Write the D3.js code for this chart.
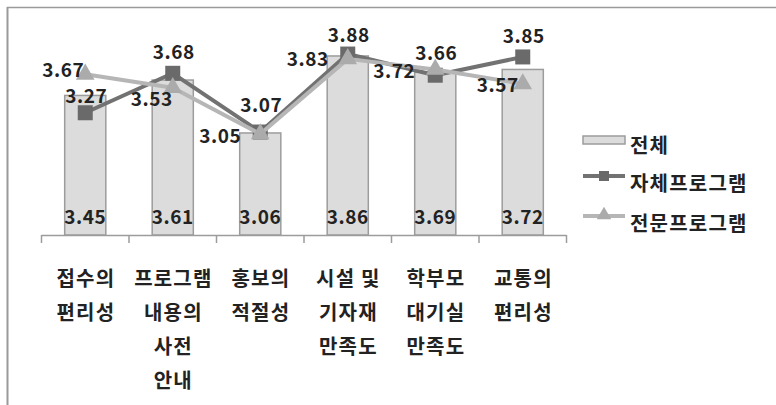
<!DOCTYPE html>
<html>
<head>
<meta charset="utf-8">
<script src="https://cdn.jsdelivr.net/npm/d3@7"></script>
<style>
  html, body { margin: 0; padding: 0; background: #fff; }
  svg { display: block; }
  text { font-family: "Noto Sans CJK KR", "Noto Sans", sans-serif; fill: #222; }
</style>
</head>
<body>
<svg id="chart" width="776" height="405"></svg>
<script>
// Categories (multi-line axis labels)
const categories = [
  ["접수의", "편리성"],
  ["프로그램", "내용의", "사전", "안내"],
  ["홍보의", "적절성"],
  ["시설 및", "기자재", "만족도"],
  ["학부모", "대기실", "만족도"],
  ["교통의", "편리성"]
];
const seriesNames = ["전체", "자체프로그램", "전문프로그램"];
const totalValues = [3.45, 3.61, 3.06, 3.86, 3.69, 3.72];
const ownValues = [3.27, 3.68, 3.07, 3.88, 3.66, 3.85];
const expertValues = [3.67, 3.53, 3.05, 3.83, 3.72, 3.57];

// label nudges for the line series (px)
const ownLabelDy = [-18, -23, -29, -21, -24, -22];
const expertLabelDx = [-22, -21, -40, -40, -41, -25];
const expertLabelDy = [-6, 10, 1, -1, 0, 0];

const svg = d3.select("#chart");
const W = 776, H = 405;
const numSize = 19, numSpacing = 0.6;
const korSize = 20, korSpacing = 1.2;

// frame (top and left edges)
svg.append("line").attr("x1", 7).attr("x2", W).attr("y1", 7.5).attr("y2", 7.5)
  .attr("stroke", "#9a9a9a").attr("stroke-width", 1.5);
svg.append("line").attr("x1", 7.5).attr("x2", 7.5).attr("y1", 7).attr("y2", H)
  .attr("stroke", "#9a9a9a").attr("stroke-width", 2);

const idx = d3.range(categories.length);
const x = d3.scaleBand().domain(idx).range([41.5, 566.5]).padding(0);
const y = d3.scaleLinear().domain([2, 4.2]).range([235, 235 - 2.2 * 96.25]);
const bw = x.bandwidth() * 0.47;
const cx = i => x(i) + x.bandwidth() / 2;

// bars
svg.append("g").selectAll("rect").data(totalValues).join("rect")
  .attr("x", (d, i) => cx(i) - bw / 2)
  .attr("y", d => y(d))
  .attr("width", bw)
  .attr("height", d => y(2) - y(d))
  .attr("fill", "#dcdcdc")
  .attr("stroke", "#9c9c9c")
  .attr("stroke-width", 1.5);

// x axis with boundary ticks
const axisG = svg.append("g");
axisG.append("line").attr("x1", x.range()[0]).attr("x2", x.range()[1])
  .attr("y1", 235.5).attr("y2", 235.5).attr("stroke", "#9c9c9c").attr("stroke-width", 1.5);
axisG.selectAll("line.tick").data(d3.range(categories.length + 1)).join("line")
  .attr("class", "tick")
  .attr("x1", i => x.range()[0] + i * x.step()).attr("x2", i => x.range()[0] + i * x.step())
  .attr("y1", 235).attr("y2", 243)
  .attr("stroke", "#9c9c9c").attr("stroke-width", 1.5);

// category labels
const catG = svg.append("g").selectAll("text").data(categories).join("text")
  .attr("text-anchor", "middle")
  .attr("font-size", korSize)
  .attr("letter-spacing", korSpacing)
  .attr("font-weight", "bold");
catG.each(function (lines, i) {
  d3.select(this).selectAll("tspan").data(lines).join("tspan")
    .attr("x", cx(i) + korSpacing / 2)
    .attr("y", (d, j) => 277 + j * 34)
    .attr("dominant-baseline", "central")
    .text(d => d);
});

function numLabel(sel) {
  sel.attr("text-anchor", "middle").attr("dominant-baseline", "central")
    .attr("font-size", numSize).attr("font-weight", "bold")
    .attr("letter-spacing", numSpacing)
    .text(d => d.toFixed(2));
}

// bar value labels at base
svg.append("g").selectAll("text").data(totalValues).join("text")
  .attr("x", (d, i) => cx(i))
  .attr("y", 215)
  .call(numLabel);

const line = d3.line().x((d, i) => cx(i)).y(d => y(d));
const darkLine = "#727272", darkMark = "#6a6a6a";
const lightLine = "#b6b6b6", lightMark = "#ababab";

// 자체프로그램 series
svg.append("path").datum(ownValues).attr("d", line)
  .attr("fill", "none").attr("stroke", darkLine).attr("stroke-width", 4)
  .attr("stroke-linejoin", "round");
svg.append("g").selectAll("rect").data(ownValues).join("rect")
  .attr("x", (d, i) => cx(i) - 7.5).attr("y", d => y(d) - 7.5)
  .attr("width", 15).attr("height", 15).attr("fill", darkMark);

// 전문프로그램 series
const tri = d3.symbol().type(d3.symbolTriangle).size(150);
svg.append("path").datum(expertValues).attr("d", line)
  .attr("fill", "none").attr("stroke", lightLine).attr("stroke-width", 4)
  .attr("stroke-linejoin", "round");
svg.append("g").selectAll("path").data(expertValues).join("path")
  .attr("d", tri)
  .attr("transform", (d, i) => `translate(${cx(i)},${y(d)})`)
  .attr("fill", lightMark);

// line labels
svg.append("g").selectAll("text").data(ownValues).join("text")
  .attr("x", (d, i) => cx(i) + 1)
  .attr("y", (d, i) => y(d) + ownLabelDy[i])
  .call(numLabel);
svg.append("g").selectAll("text").data(expertValues).join("text")
  .attr("x", (d, i) => cx(i) + expertLabelDx[i])
  .attr("y", (d, i) => y(d) + expertLabelDy[i])
  .call(numLabel);

// legend
const lg = svg.append("g").attr("transform", "translate(583,0)");
const rows = [144, 182, 222];
lg.append("rect").attr("x", 0).attr("y", rows[0] - 8).attr("width", 42).attr("height", 8)
  .attr("fill", "#dcdcdc").attr("stroke", "#9c9c9c").attr("stroke-width", 1.5);
lg.append("line").attr("x1", 0).attr("x2", 42).attr("y1", rows[1] - 6).attr("y2", rows[1] - 6)
  .attr("stroke", darkLine).attr("stroke-width", 4);
lg.append("rect").attr("x", 16).attr("y", rows[1] - 11).attr("width", 10).attr("height", 10)
  .attr("fill", darkMark);
lg.append("line").attr("x1", 0).attr("x2", 42).attr("y1", rows[2] - 6).attr("y2", rows[2] - 6)
  .attr("stroke", lightLine).attr("stroke-width", 4);
lg.append("path").attr("d", d3.symbol().type(d3.symbolTriangle).size(90))
  .attr("transform", `translate(21,${rows[2] - 7})`).attr("fill", lightMark);
lg.selectAll("text").data(seriesNames).join("text")
  .attr("x", 47).attr("y", (d, i) => rows[i])
  .attr("dominant-baseline", "central")
  .attr("font-size", korSize).attr("letter-spacing", korSpacing).attr("font-weight", "bold")
  .text(d => d);
</script>
</body>
</html>
